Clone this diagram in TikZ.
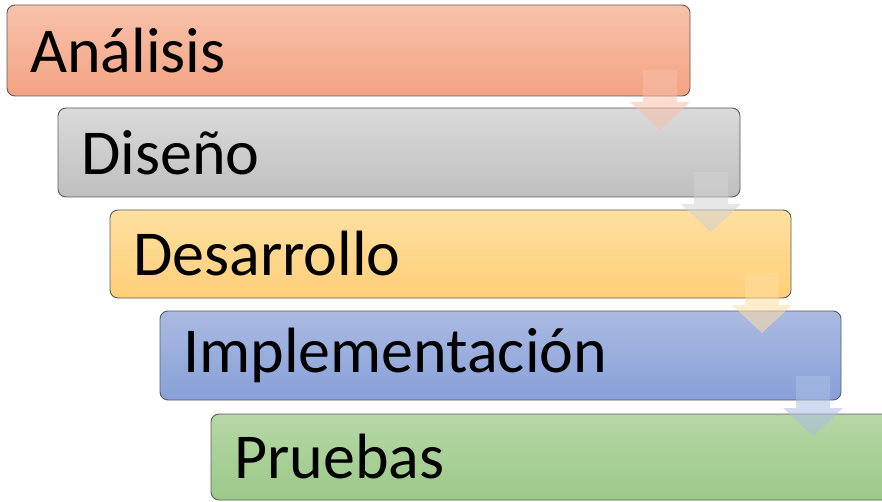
\documentclass[tikz,border=0pt]{standalone}
\usepackage{fontspec}
\setmainfont{Carlito}
\definecolor{aT}{HTML}{F8C2AA}\definecolor{aB}{HTML}{F4A383}
\definecolor{dT}{HTML}{DADADA}\definecolor{dB}{HTML}{BFBFBF}
\definecolor{sT}{HTML}{FFE0A0}\definecolor{sB}{HTML}{FFCF78}
\definecolor{iT}{HTML}{AABAE2}\definecolor{iB}{HTML}{88A0D8}
\definecolor{pT}{HTML}{B6D7A6}\definecolor{pB}{HTML}{9CC988}
\definecolor{edge}{HTML}{5A5A5A}
\tikzset{
  stage/.style={draw=edge, line width=0.9pt, rounded corners=8pt},
  lbl/.style={anchor=west, font=\fontsize{64}{72}\selectfont, inner sep=0pt, text=black},
  darrow/.style={draw=none, fill opacity=0.55}
}
\newcommand{\stagebox}[8]{% name, x1,y1,x2,y2, top, bottom, text
  \shade[stage, top color=#6, bottom color=#7] (#2,#3) rectangle (#4,#5);
  \node[lbl] (#1) at ({#2+23},{(#3+#5)/2}) {#8};
}
\newcommand{\myarrowdown}[4]{% cx, top, color, name
  \fill[darrow, fill=#3] ({#1-17},#2) -- ({#1+17},#2) -- ({#1+17},{#2+32}) -- ({#1+30},{#2+32}) -- (#1,{#2+60}) -- ({#1-30},{#2+32}) -- ({#1-17},{#2+32}) -- cycle;
  \coordinate (#4) at (#1,#2);
}
\begin{document}
\begin{tikzpicture}[x=1pt,y=-1pt]
\useasboundingbox (0,0) rectangle (882,502);
\begin{scope}
\clip (0,0) rectangle (882,502);
\stagebox{a}{7}{5}{690}{96}{aT}{aB}{Análisis}
\stagebox{d}{58}{108}{740}{197}{dT}{dB}{Diseño}
\stagebox{s}{110}{210}{791}{298}{sT}{sB}{Desarrollo}
\stagebox{i}{160}{311}{841}{400}{iT}{iB}{Implementación}
\stagebox{p}{211}{414}{895}{500}{pT}{pB}{Pruebas}
\myarrowdown{660}{70}{aB!70!white}{ar1}
\myarrowdown{711}{172}{dB!70!white}{ar2}
\myarrowdown{762}{273}{sB!70!white}{ar3}
\myarrowdown{813}{376}{iB!70!white}{ar4}
\end{scope}
\end{tikzpicture}
\end{document}
